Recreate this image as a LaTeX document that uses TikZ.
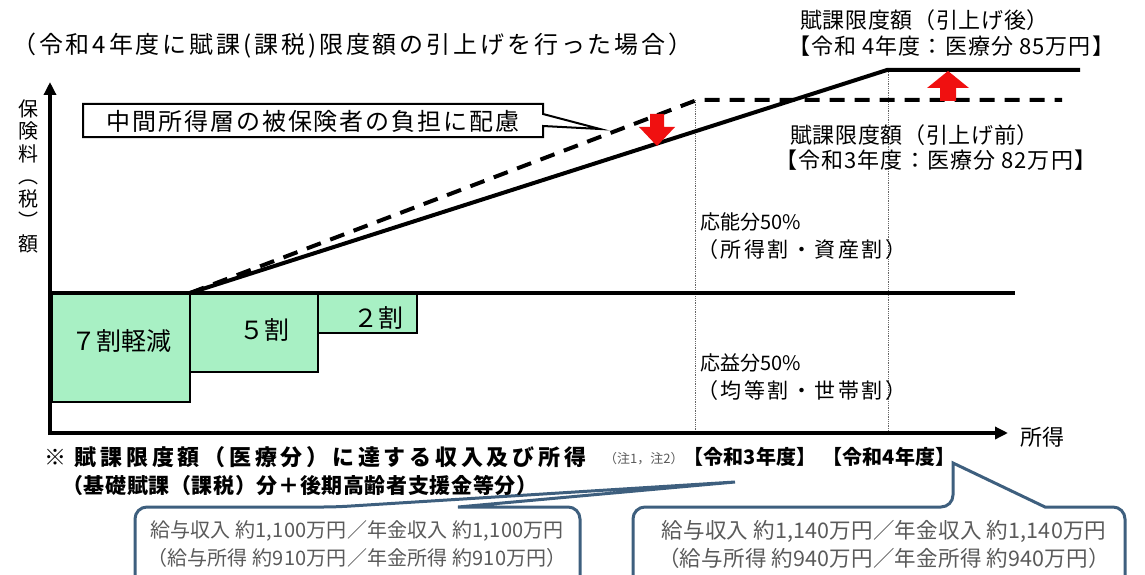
\documentclass[tikz,border=0pt]{standalone}
\usepackage{fontspec}
\setmainfont{Noto Sans CJK JP}
\usetikzlibrary{arrows.meta}

\definecolor{mint}{HTML}{A8F0C4}
\definecolor{callblue}{HTML}{3E5F7E}
\definecolor{calltext}{HTML}{5A5A5A}
\definecolor{upred}{HTML}{F01010}

% 字間つきの文字サイズ
\newcommand\jfont[2]{\fontsize{#1}{#1}\selectfont\addfontfeatures{LetterSpace=#2}}

\begin{document}
\begin{tikzpicture}[x=1pt, y=-1pt, line cap=butt, line join=miter,
  txt/.style={inner sep=0pt, font=\jfont{22}{3}},
  smalltxt/.style={inner sep=0pt, font=\jfont{13}{0}, text=calltext},
  calltxt/.style={inner sep=0pt, font=\jfont{20}{1}, text=calltext},
  axis/.style={line width=3.5pt, -{Triangle[length=13pt,width=12pt]}},
  rate/.style={draw, line width=2pt, fill=mint},
  guide/.style={line width=0.8pt, densely dotted, black!60},
  callout/.style={line width=3pt, draw=callblue, fill=white}]

  %% ════ 軽減の箱 ════
  \draw[rate] (52,293) rectangle (190,402);
  \draw[rate] (190,293) rectangle (318,372);
  \draw[rate] (318,293) rectangle (417,333);

  %% ════ 補助線（点線）════
  \draw[guide] (695,100) -- (695,433);
  \draw[guide] (888,70) -- (888,433);

  %% ════ 軸と区分線 ════
  \draw[line width=4pt] (50,293) -- (1015,293);
  \draw[axis] (50,435) -- (50,82);
  \draw[axis] (48,433) -- (1008,433);

  %% ════ 限度額の折れ線 ════
  \draw[line width=4pt, dash pattern=on 15pt off 10pt] (190,293) -- (697,100) -- (1062,100);
  \draw[line width=4pt] (190,293) -- (887,70) -- (1080,70);

  %% ════ 赤い矢印 ════
  \fill[upred] (650,114) -- (664,114) -- (664,127) -- (675,127) -- (657,146) -- (639,127) -- (650,127) -- cycle;
  \fill[upred] (940,101) -- (956,101) -- (956,88) -- (969,88) -- (948,71) -- (927,88) -- (940,88) -- cycle;

  %% ════ 吹き出し（中間所得層）════
  \draw[line width=2pt, fill=white] (83,104) -- (543,104) -- (543,114) -- (600,129) -- (543,126) -- (543,137) -- (83,137) -- cycle;
  \node[txt, font=\jfont{24}{8}] (mid) at (313,121) {中間所得層の被保険者の負担に配慮};

  %% ════ 下の吹き出し ════
  \draw[callout] (135,580) [rounded corners=12pt] -- (135,507) -- (335,507) [sharp corners] -- (735,482) -- (458,507) [rounded corners=12pt] -- (580,507) -- (580,580);
  \draw[callout] (633,580) [rounded corners=12pt] -- (633,507) -- (953,507) [sharp corners] -- (953,463) -- (1045,507) [rounded corners=12pt] -- (1125,507) -- (1125,580);

  %% ════ 文字 ════
  \node[txt, anchor=west, font=\jfont{24}{12}] (title) at (12,46) {（令和4年度に賦課(課税)限度額の引上げを行った場合）};
  \node[txt, align=center, font=\fontsize{20}{22.5}\selectfont] (ylab) at (28,176) {保\\険\\料\\︵\\税\\︶\\額};
  \node[txt, anchor=west] (xlab) at (1020,437) {所得};

  \node[txt, font=\jfont{25}{0}] (r7) at (121,341) {７割軽減};
  \node[txt, font=\jfont{25}{0}] (r5) at (264,330) {５割};
  \node[txt, font=\jfont{25}{0}] (r2) at (378,318) {２割};

  \node[txt, anchor=west] (after) at (800,20) {賦課限度額（引上げ後）};
  \node[txt, anchor=west, font=\jfont{22}{5}] (after4) at (788,46) {【令和 4年度：医療分 85万円】};
  \node[txt, anchor=west] (before) at (790,135) {賦課限度額（引上げ前）};
  \node[txt, anchor=west, font=\jfont{22}{5}] (before3) at (775,160) {【令和3年度：医療分 82万円】};

  \node[txt, anchor=west, font=\jfont{20}{0}] (noryoku) at (700,222) {応能分50\%};
  \node[txt, anchor=west, font=\jfont{21}{12}] (noryoku2) at (697,250) {（所得割・資産割）};
  \node[txt, anchor=west, font=\jfont{20}{0}] (oeki) at (700,363) {応益分50\%};
  \node[txt, anchor=west, font=\jfont{21}{12}] (oeki2) at (697,391) {（均等割・世帯割）};

  \node[txt, anchor=west, font=\bfseries\jfont{22}{17}] (note) at (44,457) {※ 賦課限度額（医療分）に達する収入及び所得};
  \node[smalltxt, anchor=west] (note12) at (604,459) {（注1，注2）};
  \node[txt, anchor=west, font=\bfseries\jfont{20}{1}] (r3yr) at (683,457) {【令和3年度】};
  \node[txt, anchor=west, font=\bfseries\jfont{20}{1}] (r4yr) at (822,457) {【令和4年度】};
  \node[txt, anchor=west, font=\bfseries\jfont{21}{3}] (notesub) at (62,485) {（基礎賦課（課税）分＋後期高齢者支援金等分）};

  \node[calltxt] (inc3) at (357,531) {給与収入 約1,100万円／年金収入 約1,100万円};
  \node[calltxt] (sal3) at (357,558) {（給与所得 約910万円／年金所得 約910万円）};
  \node[calltxt, font=\jfont{21.5}{1}] (inc4) at (884,531) {給与収入 約1,140万円／年金収入 約1,140万円};
  \node[calltxt, font=\jfont{21.5}{1}] (sal4) at (884,558) {（給与所得 約940万円／年金所得 約940万円）};

  % 画布を固定
  \pgfresetboundingbox
  \path[use as bounding box] (0,0) rectangle (1145,575);
\end{tikzpicture}
\end{document}
